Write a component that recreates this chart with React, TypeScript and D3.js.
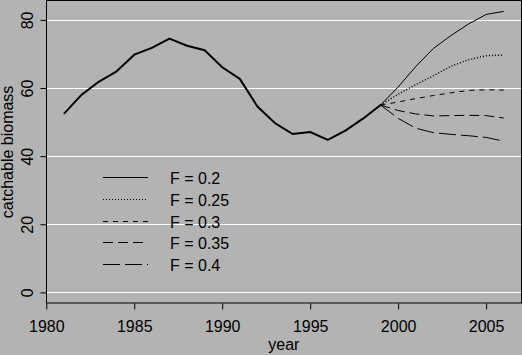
import React, { useEffect, useRef } from "react";
import * as d3 from "d3";

// observed catchable biomass
const histYears = [1981, 1982, 1983, 1984, 1985, 1986, 1987, 1988, 1989, 1990, 1991, 1992, 1993, 1994, 1995, 1996, 1997, 1998, 1999];
const histBiomass = [52.4, 58.0, 61.9, 64.9, 69.8, 71.8, 74.5, 72.4, 71.1, 66.1, 62.7, 54.6, 49.7, 46.5, 47.1, 44.8, 47.5, 51.0, 55.0];

// projections from 1999 onwards
const projYears = [1999, 2000, 2001, 2002, 2003, 2004, 2005, 2006];
const projF02 = [55.0, 60.3, 66.3, 71.6, 75.4, 78.8, 81.6, 82.5];
const projF025 = [55.0, 58.2, 61.0, 63.6, 66.4, 68.3, 69.5, 69.7];
const projF03 = [55.0, 55.9, 56.9, 57.8, 58.6, 59.3, 59.5, 59.4];
const projF035 = [55.0, 53.4, 52.4, 51.8, 51.9, 52.0, 51.9, 51.2];
const projF04 = [55.0, 51.1, 48.2, 46.9, 46.4, 46.0, 45.5, 44.4];

const legendLabels = ["F = 0.2", "F = 0.25", "F = 0.3", "F = 0.35", "F = 0.4"];
const dashes = ["none", "1,2", "5,5", "10,5", "17,5"];

const xTicks = [1980, 1985, 1990, 1995, 2000, 2005];
const yTicks = [0, 20, 40, 60, 80];

const App = () => {
  const ref = useRef(null);

  useEffect(() => {
    const width = 522;
    const height = 355;
    const font = "'Liberation Sans', Arial, Helvetica, sans-serif";

    const x = d3.scaleLinear().domain([1980, 2007]).range([46.3, 521.3]);
    const y = d3.scaleLinear().domain([-3.2, 85.7]).range([303.3, 0.5]);

    const svg = d3
      .select(ref.current)
      .attr("width", width)
      .attr("height", height)
      .attr("viewBox", [0, 0, width, height])
      .style("font-family", font);

    svg.selectAll("*").remove();

    svg.append("rect").attr("width", width).attr("height", height).attr("fill", "#b3b3b3");

    // white grid lines
    svg
      .append("g")
      .selectAll("line")
      .data(yTicks)
      .join("line")
      .attr("x1", x(1980))
      .attr("x2", x(2007))
      .attr("y1", (d) => Math.round(y(d)) + 0.5)
      .attr("y2", (d) => Math.round(y(d)) + 0.5)
      .attr("stroke", "white")
      .attr("stroke-width", 1.2);

    // box
    svg
      .append("rect")
      .attr("x", Math.round(x(1980)) + 0.5)
      .attr("y", 0.5)
      .attr("width", Math.round(x(2007)) - Math.round(x(1980)))
      .attr("height", Math.round(y(-3.2)) - 0.5)
      .attr("fill", "none")
      .attr("stroke", "black");

    // x axis
    const xAxis = svg
      .append("g")
      .attr("transform", `translate(0,${Math.round(y(-3.2)) + 0.5})`)
      .call(d3.axisBottom(x).tickValues(xTicks).tickFormat(d3.format("d")).tickSize(6).tickSizeOuter(0))
      .call((g) => g.select(".domain").remove());
    xAxis.selectAll(".tick line").attr("stroke", "black");
    xAxis
      .selectAll(".tick text")
      .attr("font-size", 16)
      .attr("font-family", font)
      .attr("fill", "black")
      .attr("y", 0)
      .attr("dy", 0)
      .attr("transform", "translate(0,28)");

    // y axis with rotated labels
    const yAxis = svg
      .append("g")
      .attr("transform", `translate(${Math.round(x(1980)) + 0.5},0)`)
      .call(d3.axisLeft(y).tickValues(yTicks).tickSize(6).tickSizeOuter(0))
      .call((g) => g.select(".domain").remove());
    yAxis.selectAll(".tick line").attr("stroke", "black");
    yAxis
      .selectAll(".tick text")
      .attr("font-size", 16)
      .attr("font-family", font)
      .attr("fill", "black")
      .attr("x", 0)
      .attr("dy", 0)
      .attr("text-anchor", "middle")
      .attr("transform", "translate(-14,0) rotate(-90)");

    // axis titles
    svg
      .append("text")
      .attr("x", (x(1980) + x(2007)) / 2)
      .attr("y", 350)
      .attr("text-anchor", "middle")
      .attr("font-size", 16)
      .text("year");

    svg
      .append("text")
      .attr("transform", `translate(13,${(y(-3.2) + y(85.7)) / 2}) rotate(-90)`)
      .attr("text-anchor", "middle")
      .attr("font-size", 16)
      .text("catchable biomass");

    const line = d3
      .line()
      .x((d) => x(d[0]))
      .y((d) => y(d[1]));

    svg
      .append("path")
      .datum(histYears.map((yr, i) => [yr, histBiomass[i]]))
      .attr("fill", "none")
      .attr("stroke", "black")
      .attr("stroke-width", 2)
      .attr("stroke-linejoin", "round")
      .attr("d", line);

    const projections = [projF02, projF025, projF03, projF035, projF04];
    projections.forEach((vals, k) => {
      svg
        .append("path")
        .datum(projYears.map((yr, i) => [yr, vals[i]]))
        .attr("fill", "none")
        .attr("stroke", "black")
        .attr("stroke-width", k === 1 ? 1.5 : 1)
        .attr("stroke-dasharray", dashes[k])
        .attr("d", line);
    });

    // legend
    const legend = svg
      .append("g")
      .selectAll("g")
      .data(legendLabels)
      .join("g")
      .attr("transform", (_, i) => `translate(0,${Math.round(176.7 + i * 21.9) + 0.5})`);
    legend
      .append("line")
      .attr("x1", 103)
      .attr("x2", 148)
      .attr("stroke", "black")
      .attr("stroke-dasharray", (_, i) => dashes[i]);
    legend
      .append("text")
      .attr("x", 170)
      .attr("y", 6)
      .attr("font-size", 16)
      .text((d) => d);
  }, []);

  return (
    <div style={{ position: "fixed", left: 0, top: 0 }}>
      <svg ref={ref} style={{ display: "block" }}></svg>
    </div>
  );
};

export default App;
